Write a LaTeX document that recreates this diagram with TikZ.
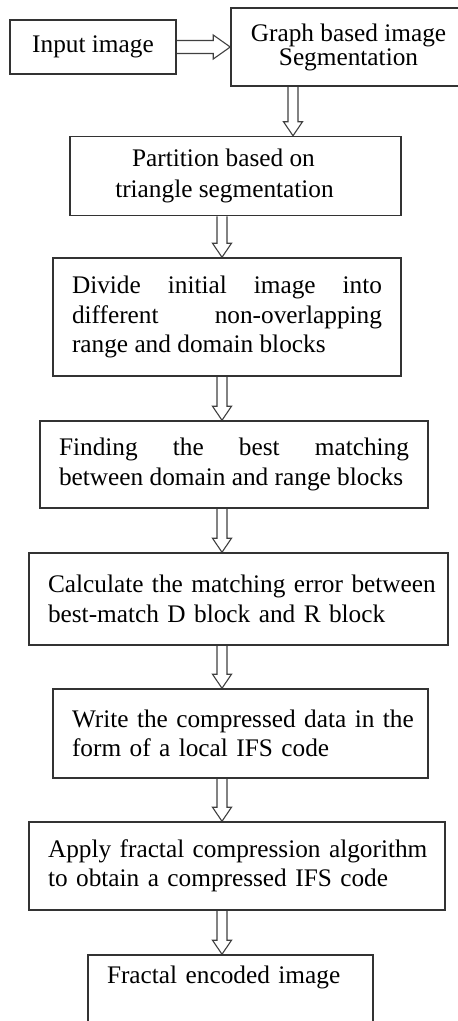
\documentclass[tikz,border=0pt]{standalone}
\usepackage{fontspec}
\setmainfont{Liberation Serif}
\usetikzlibrary{calc,backgrounds}
\tikzset{
  box/.style={draw=black!80, line width=1.5pt, inner ysep=0pt, text=black,
    font=\fontsize{25.3}{29.5}\selectfont},
  lbox/.style={box, inner xsep=1pt, align=left},
  hollow/.style={draw=black!75, line width=1.1pt, fill=white, line join=miter},
}
\newcommand\vflow[3]{%
  \draw[hollow] ($(#1.south -| #3)+(-5,0)$) -- ($(#2.north -| #3)+(-5,-14)$)
    -- ($(#2.north -| #3)+(-9.5,-14)$) -- (#2.north -| #3)
    -- ($(#2.north -| #3)+(9.5,-14)$) -- ($(#2.north -| #3)+(5,-14)$)
    -- ($(#1.south -| #3)+(5,0)$);}
\newcommand\hflow[2]{%
  \draw[hollow] ($(#1.east)+(0,-6.5)$) -- ($(#2.west)+(-17,-6.5)$)
    -- ($(#2.west)+(-17,-12)$) -- (#2.west)
    -- ($(#2.west)+(-17,12)$) -- ($(#2.west)+(-17,6.5)$)
    -- ($(#1.east)+(0,6.5)$);}
\newcommand\lm{\hspace*{18pt}}
\begin{document}
\begin{tikzpicture}[x=1pt,y=-1pt]
\useasboundingbox (0,0) rectangle (458,1021);
\clip (0,0) rectangle (458,1021);
\coordinate (ax) at (293,0);
\coordinate (bx) at (222,0);

\node[box, minimum width=166pt, minimum height=54pt] (n1) at (93,47) {Input image};
\node[box, minimum width=235pt, minimum height=78pt, align=center,
  font=\fontsize{25.3}{24}\selectfont] (n2) at (348.5,47) {Graph based image\\Segmentation};
\node[box, minimum width=331pt, minimum height=79pt, align=center,
  font=\fontsize{25.3}{31}\selectfont] (n3) at (235.5,176)
  {\hspace*{-24pt}Partition based on\\\hspace*{-22pt}triangle segmentation};
\node[box, text width=310pt, inner xsep=19pt, minimum height=118pt, align=justify] (n4) at (227,317)
  {\hyphenpenalty=10000 Divide initial image into\linebreak different non-overlapping\linebreak range and domain blocks};
\node[box, text width=350pt, inner xsep=19pt, minimum height=87pt, align=justify] (n5) at (234,464.5)
  {\hyphenpenalty=10000 Finding the best matching\linebreak between domain and range blocks};
\node[lbox, text width=417pt, minimum height=92pt] (n6) at (238.5,599)
  {\lm Calculate the matching error between\\\lm best-match D block and R block};
\node[lbox, text width=373pt, minimum height=89pt] (n7) at (240.5,733.5)
  {\lm Write the compressed data in the\\\lm form of a local IFS code};
\node[lbox, text width=414pt, minimum height=88pt] (n8) at (237,866)
  {\lm Apply fractal compression algorithm\\\lm to obtain a compressed IFS code};
\node[lbox, text width=283pt, text height=28pt, text depth=47pt] (n9) at (230.5,992.5)
  {\lm Fractal encoded image};

\begin{pgfonlayer}{background}
\hflow{n1}{n2}
\vflow{n2}{n3}{ax}
\vflow{n3}{n4}{bx}
\vflow{n4}{n5}{bx}
\vflow{n5}{n6}{bx}
\vflow{n6}{n7}{bx}
\vflow{n7}{n8}{bx}
\vflow{n8}{n9}{bx}
\end{pgfonlayer}
\end{tikzpicture}
\end{document}
